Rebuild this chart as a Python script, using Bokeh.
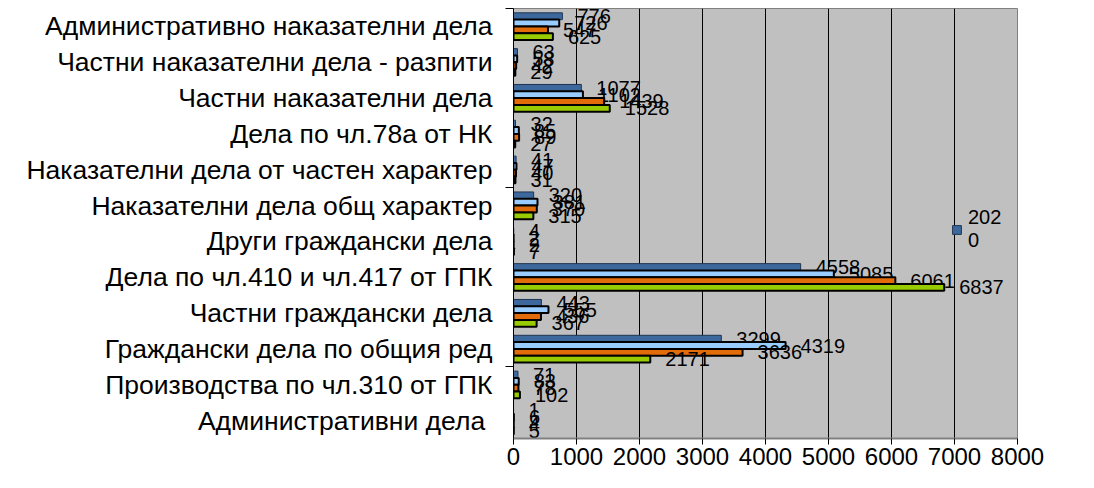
from bokeh.plotting import figure
from bokeh.models import FixedTicker, Legend, LegendItem, ColumnDataSource
from bokeh.core.properties import value
from bokeh.embed import file_html
from bokeh.resources import INLINE

categories = [
    "Административно наказателни дела",
    "Частни наказателни дела - разпити",
    "Частни наказателни дела",
    "Дела по чл.78а от НК",
    "Наказателни дела от частен характер",
    "Наказателни дела общ характер",
    "Други граждански дела",
    "Дела по чл.410 и чл.417 от ГПК",
    "Частни граждански дела",
    "Граждански дела по общия ред",
    "Производства по чл.310 от ГПК",
    "Административни дела ",
]
series_names = ["2020", "2021", "2022", "2023"]
s1 = [776, 63, 1077, 32, 41, 320, 4, 4558, 443, 3299, 71, 1]
s2 = [726, 58, 1102, 85, 47, 381, 2, 5085, 555, 4319, 83, 6]
s3 = [547, 42, 1439, 89, 40, 370, 2, 6061, 436, 3636, 78, 4]
s4 = [625, 29, 1528, 27, 31, 315, 7, 6837, 367, 2171, 102, 5]
x_ticks = [0, 1000, 2000, 3000, 4000, 5000, 6000, 7000, 8000]

colors = ["#3C689D", "#99CCFF", "#E36C0A", "#99CC00"]
line_colors = ["#1F3550", "#000000", "#000000", "#000000"]
line_widths = [1, 2, 2, 2]
offsets = [0.285, 0.095, -0.095, -0.285]
FONT = "Liberation Sans"

n = len(categories)
centers = [n - i - 0.5 for i in range(n)]

p = figure(
    frame_width=504, frame_height=430,
    x_range=(0, 8000), y_range=(0, n),
    output_backend="svg", toolbar_location=None,
    min_border_left=513, min_border_right=55, min_border_top=8, min_border_bottom=30,
    background_fill_color="#C0C0C0", border_fill_color="white",
)
p.outline_line_color = "#808080"
p.outline_line_width = 1

renderers = []
for k, vals in enumerate([s1, s2, s3, s4]):
    ys = [c + offsets[k] for c in centers]
    src = ColumnDataSource(dict(y=ys, v=vals, t=[str(v) for v in vals]))
    r = p.hbar(y="y", right="v", left=0, height=0.19, source=src,
               fill_color=colors[k], line_color=line_colors[k], line_width=line_widths[k])
    renderers.append(r)
    p.text(x="v", y="y", text="t", source=src, x_offset=15,
           text_align="left", text_baseline="middle",
           text_font=value(FONT), text_font_size="20px", text_color="black")

p.xgrid.ticker = FixedTicker(ticks=x_ticks)
p.xgrid.grid_line_color = "black"
p.xgrid.grid_line_width = 1
p.ygrid.grid_line_color = None

p.xaxis.ticker = FixedTicker(ticks=x_ticks)
p.xaxis.axis_line_color = "#808080"
p.xaxis.axis_line_width = 2
p.xaxis.major_tick_out = 6
p.xaxis.major_tick_in = 0
p.xaxis.major_tick_line_color = "black"
p.xaxis.minor_tick_line_color = None
p.xaxis.major_label_text_font = FONT
p.xaxis.major_label_text_font_size = "24px"
p.xaxis.major_label_text_color = "black"
p.xaxis.major_label_standoff = 3

p.yaxis.ticker = FixedTicker(ticks=centers, minor_ticks=[2, 7, 12])
p.yaxis.major_label_overrides = {c: categories[i] for i, c in enumerate(centers)}
p.yaxis.axis_line_color = "black"
p.yaxis.major_tick_out = 0
p.yaxis.major_tick_in = 0
p.yaxis.minor_tick_out = 8
p.yaxis.minor_tick_in = 0
p.yaxis.minor_tick_line_color = "black"
p.yaxis.major_label_text_font = FONT
p.yaxis.major_label_text_font_size = "26.5px"
p.yaxis.major_label_text_color = "black"
p.yaxis.major_label_standoff = 13

legend = Legend(
    items=[LegendItem(label="202\n0", renderers=[renderers[0]])],
    location=(438, 186), padding=0, margin=0, spacing=0,
    glyph_width=11, glyph_height=11, label_standoff=6,
    label_text_font=FONT, label_text_font_size="20px", label_text_color="black",
    border_line_color=None, background_fill_alpha=0,
)
p.add_layout(legend, "center")

open("out.html", "w").write(file_html(p, INLINE))
